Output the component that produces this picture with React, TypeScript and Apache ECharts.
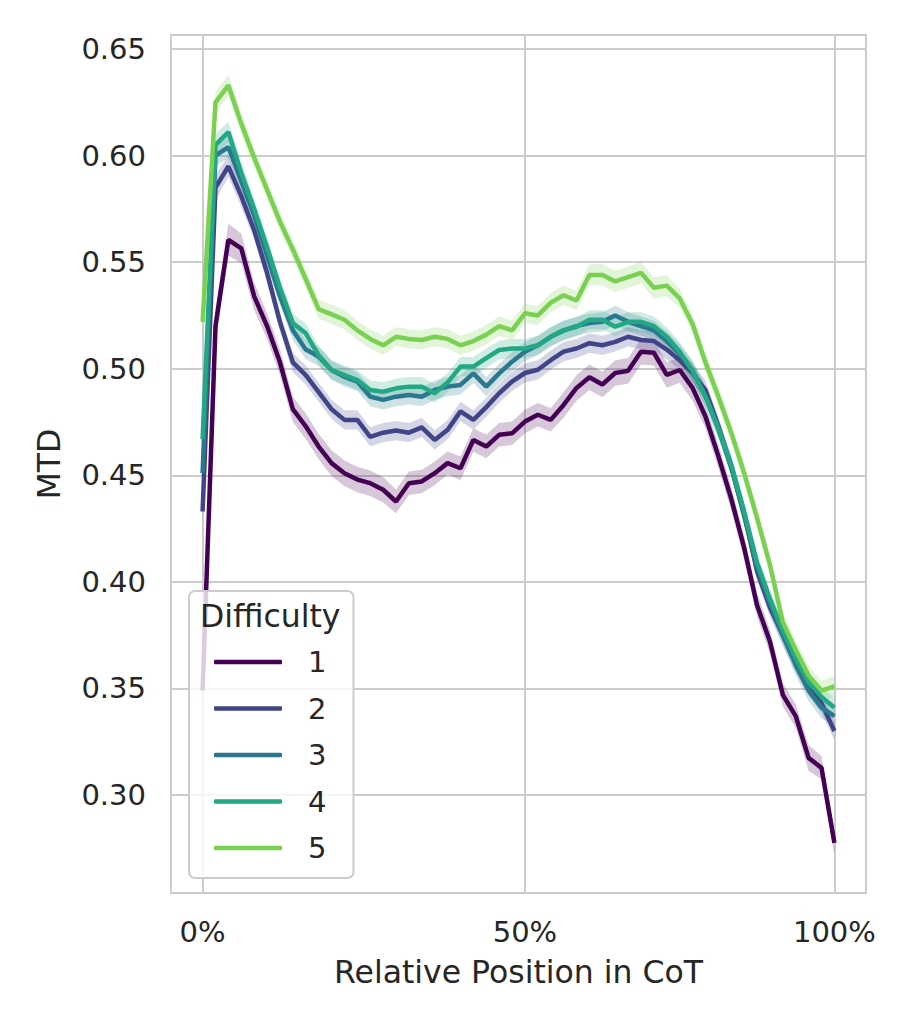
import React, { useEffect, useRef } from 'react';
import * as echarts from 'echarts';

// bin index along the chain of thought (50 bins)
const positions = Array.from({ length: 50 }, (_, i) => i);
const xTickValues = [0, 25, 49];
const xTickLabels = ['0%', '50%', '100%'];
const yTickValues = [0.3, 0.35, 0.4, 0.45, 0.5, 0.55, 0.6, 0.65];
const difficulties = ['1', '2', '3', '4', '5'];
const colors = ['#440154', '#414487', '#2a788e', '#22a884', '#7ad151'];

const mtd1 = [0.349, 0.520, 0.5605, 0.5565, 0.534, 0.520, 0.503, 0.481, 0.473, 0.4635,
  0.4557, 0.451, 0.448, 0.4463, 0.4432, 0.4377, 0.4463, 0.4471, 0.451, 0.4557,
  0.4533, 0.4666, 0.4635, 0.469, 0.4697, 0.4752, 0.4784, 0.476, 0.483, 0.491,
  0.496, 0.4926, 0.498, 0.499, 0.508, 0.5075, 0.4971, 0.4994, 0.491, 0.4776,
  0.459, 0.439, 0.416, 0.389, 0.372, 0.347, 0.337, 0.3174, 0.3127, 0.2775];
const mtd2 = [0.433, 0.585, 0.595, 0.581, 0.565, 0.545, 0.522, 0.503, 0.497, 0.489,
  0.481, 0.476, 0.476, 0.468, 0.470, 0.471, 0.470, 0.4725, 0.4666, 0.4713,
  0.480, 0.476, 0.482, 0.4885, 0.494, 0.498, 0.4995, 0.504, 0.508, 0.5095,
  0.512, 0.511, 0.5126, 0.515, 0.5135, 0.513, 0.509, 0.504, 0.498, 0.490,
  0.473, 0.454, 0.432, 0.405, 0.388, 0.375, 0.362, 0.351, 0.343, 0.330];
const mtd3 = [0.451, 0.600, 0.604, 0.588, 0.572, 0.553, 0.534, 0.518, 0.509, 0.5057,
  0.4994, 0.4962, 0.494, 0.4869, 0.4854, 0.4869, 0.4877, 0.4869, 0.490, 0.4916,
  0.4924, 0.4978, 0.4916, 0.4978, 0.5033, 0.508, 0.511, 0.515, 0.518, 0.520,
  0.5214, 0.522, 0.525, 0.522, 0.520, 0.518, 0.513, 0.507, 0.499, 0.487,
  0.472, 0.454, 0.431, 0.407, 0.390, 0.375, 0.361, 0.349, 0.341, 0.337];
const mtd4 = [0.467, 0.605, 0.611, 0.592, 0.575, 0.557, 0.538, 0.5214, 0.5166, 0.5064,
  0.4994, 0.497, 0.4947, 0.490, 0.4892, 0.4908, 0.4916, 0.4916, 0.4885, 0.4935,
  0.501, 0.501, 0.505, 0.5088, 0.5095, 0.5095, 0.511, 0.515, 0.518, 0.5197,
  0.523, 0.523, 0.5197, 0.522, 0.522, 0.520, 0.515, 0.508, 0.499, 0.487,
  0.472, 0.455, 0.433, 0.409, 0.392, 0.377, 0.364, 0.353, 0.346, 0.341];
const mtd5 = [0.522, 0.625, 0.633, 0.615, 0.599, 0.584, 0.569, 0.556, 0.542, 0.528,
  0.5255, 0.523, 0.518, 0.514, 0.511, 0.515, 0.514, 0.5135, 0.515, 0.514,
  0.511, 0.513, 0.516, 0.520, 0.518, 0.526, 0.525, 0.531, 0.5345, 0.532,
  0.544, 0.544, 0.541, 0.543, 0.545, 0.538, 0.539, 0.533, 0.521, 0.503,
  0.487, 0.470, 0.451, 0.430, 0.408, 0.381, 0.368, 0.356, 0.349, 0.351];

// 95% confidence half-widths
const ci1 = [0.009, 0.008, 0.0075, 0.007, 0.0065, 0.006, 0.006, 0.006, 0.006, 0.006,
  0.006, 0.006, 0.006, 0.006, 0.006, 0.0055, 0.0055, 0.0055, 0.0055, 0.0055,
  0.0055, 0.0055, 0.0055, 0.0055, 0.0055, 0.0055, 0.0055, 0.0055, 0.006, 0.006,
  0.006, 0.006, 0.006, 0.006, 0.006, 0.006, 0.006, 0.006, 0.006, 0.0055,
  0.0055, 0.0055, 0.0055, 0.0055, 0.0055, 0.0055, 0.0055, 0.006, 0.0055, 0.006];
const ci2 = [0.006, 0.006, 0.005, 0.005, 0.0045, 0.0045, 0.0045, 0.0045, 0.0045, 0.0045,
  0.0045, 0.0045, 0.0045, 0.0045, 0.0045, 0.0045, 0.0045, 0.0045, 0.0045, 0.0045,
  0.0045, 0.0045, 0.0045, 0.0045, 0.0045, 0.0045, 0.0045, 0.0045, 0.0045, 0.0045,
  0.0045, 0.0045, 0.0045, 0.0045, 0.0045, 0.0045, 0.0045, 0.0045, 0.0045, 0.0045,
  0.0045, 0.0045, 0.0045, 0.0045, 0.0045, 0.0045, 0.0045, 0.0045, 0.0045, 0.0045];
const ci3 = [0.006, 0.005, 0.005, 0.005, 0.0045, 0.0045, 0.0045, 0.0045, 0.0045, 0.0045,
  0.0045, 0.0045, 0.0045, 0.0045, 0.0045, 0.0045, 0.0045, 0.0045, 0.0045, 0.0045,
  0.0045, 0.0045, 0.0045, 0.0045, 0.0045, 0.0045, 0.0045, 0.0045, 0.0045, 0.0045,
  0.0045, 0.0045, 0.0045, 0.0045, 0.0045, 0.0045, 0.0045, 0.0045, 0.0045, 0.0045,
  0.0045, 0.0045, 0.0045, 0.0045, 0.0045, 0.005, 0.005, 0.005, 0.005, 0.005];
const ci4 = [0.006, 0.005, 0.005, 0.005, 0.0045, 0.0045, 0.0045, 0.0045, 0.0045, 0.0045,
  0.0045, 0.0045, 0.0045, 0.0045, 0.0045, 0.0045, 0.0045, 0.0045, 0.0045, 0.0045,
  0.0045, 0.0045, 0.0045, 0.0045, 0.0045, 0.0045, 0.0045, 0.0045, 0.0045, 0.0045,
  0.0045, 0.0045, 0.0045, 0.0045, 0.0045, 0.0045, 0.0045, 0.0045, 0.0045, 0.0045,
  0.0045, 0.0045, 0.0045, 0.0045, 0.0045, 0.0045, 0.0045, 0.0045, 0.0045, 0.0045];
const ci5 = [0.006, 0.005, 0.005, 0.005, 0.0045, 0.0045, 0.0045, 0.0045, 0.0045, 0.0045,
  0.0045, 0.0045, 0.0045, 0.0045, 0.0045, 0.0045, 0.0045, 0.0045, 0.0045, 0.0045,
  0.0045, 0.0045, 0.0045, 0.0045, 0.0045, 0.0045, 0.0045, 0.0045, 0.0045, 0.0045,
  0.005, 0.005, 0.005, 0.005, 0.005, 0.005, 0.005, 0.0045, 0.0045, 0.0045,
  0.0045, 0.0045, 0.0045, 0.0045, 0.0045, 0.0045, 0.0045, 0.0045, 0.0045, 0.005];

function hexA(hex: string, a: number) {
  const n = parseInt(hex.slice(1), 16);
  return `rgba(${n >> 16},${(n >> 8) & 255},${n & 255},${a})`;
}

export default function App() {
  const ref = useRef<HTMLDivElement>(null);
  useEffect(() => {
    const chart = echarts.init(ref.current!, null, { renderer: 'svg' });
    const font = 'DejaVu Sans';
    const textColor = '#262626';
    const grey = '#cccccc';
    const allVals = [mtd1, mtd2, mtd3, mtd4, mtd5];
    const allCi = [ci1, ci2, ci3, ci4, ci5];
    const series: any[] = [];
    allVals.forEach((vals, k) => {
      const ci = allCi[k];
      series.push({
        type: 'custom',
        name: 'band' + difficulties[k],
        silent: true,
        data: [[positions[0], vals[0]]],
        renderItem: (_params: any, api: any) => {
          const pts: number[][] = [];
          for (let i = 0; i < vals.length; i++) pts.push(api.coord([positions[i], vals[i] + ci[i]]));
          for (let i = vals.length - 1; i >= 0; i--) pts.push(api.coord([positions[i], vals[i] - ci[i]]));
          return { type: 'polygon', shape: { points: pts }, style: { fill: hexA(colors[k], 0.22) } };
        },
        z: 2,
      });
      series.push({
        type: 'line',
        name: difficulties[k],
        data: positions.map((x, i) => [x, vals[i]]),
        symbol: 'none',
        showSymbol: false,
        lineStyle: { width: 4.5, color: colors[k] },
        itemStyle: { color: colors[k] },
        z: 2,
      });
    });

    chart.setOption({
      animation: false,
      backgroundColor: '#ffffff',
      grid: { left: 171, right: 48, top: 35, bottom: 135, show: true, borderColor: grey, borderWidth: 2 },
      title: {
        text: 'Difficulty',
        left: 200,
        top: 600,
        padding: 0,
        textStyle: { fontSize: 31.5, fontWeight: 'normal', color: textColor, fontFamily: font },
        z: 10,
      },
      legend: {
        data: difficulties.map((d, k) => ({ name: d, icon: 'roundRect', itemStyle: { color: colors[k] } })),
        orient: 'vertical',
        left: 189,
        top: 591,
        padding: [56, 27, 15, 25],
        itemWidth: 68,
        itemHeight: 4.5,
        itemGap: 16.5,
        selectedMode: false,
        backgroundColor: 'rgba(255,255,255,0.8)',
        borderColor: grey,
        borderWidth: 2,
        borderRadius: 6,
        textStyle: { fontSize: 29, color: textColor, fontFamily: font, lineHeight: 30, padding: [0, 0, 0, 21] },
      },
      xAxis: {
        type: 'value',
        min: -2.45,
        max: 51.45,
        axisLine: { show: false },
        axisTick: { show: false, customValues: xTickValues },
        axisLabel: {
          customValues: xTickValues,
          formatter: (v: number) => {
            const idx = xTickValues.indexOf(Math.round(v));
            return idx >= 0 ? xTickLabels[idx] : '';
          },
          fontSize: 29,
          color: textColor,
          fontFamily: font,
          margin: 24,
        },
        splitLine: { show: true, lineStyle: { color: grey, width: 2 } },
        name: 'Relative Position in CoT',
        nameLocation: 'middle',
        nameGap: 63,
        nameTextStyle: { fontSize: 31.5, color: textColor, fontFamily: font },
      },
      yAxis: {
        type: 'value',
        min: 0.254,
        max: 0.6566,
        axisLine: { show: false },
        axisTick: { show: false, customValues: yTickValues },
        axisLabel: {
          customValues: yTickValues,
          formatter: (v: number) => v.toFixed(2),
          fontSize: 29,
          color: textColor,
          fontFamily: font,
          margin: 25,
        },
        splitLine: { show: true, lineStyle: { color: grey, width: 2 } },
        name: 'MTD',
        nameLocation: 'middle',
        nameRotate: 90,
        nameGap: 106,
        nameTextStyle: { fontSize: 31.5, color: textColor, fontFamily: font },
      },
      series,
    });
    return () => chart.dispose();
  }, []);
  return <div ref={ref} style={{ position: 'absolute', left: 0, top: 0, width: 914, height: 1028 }} />;
}
